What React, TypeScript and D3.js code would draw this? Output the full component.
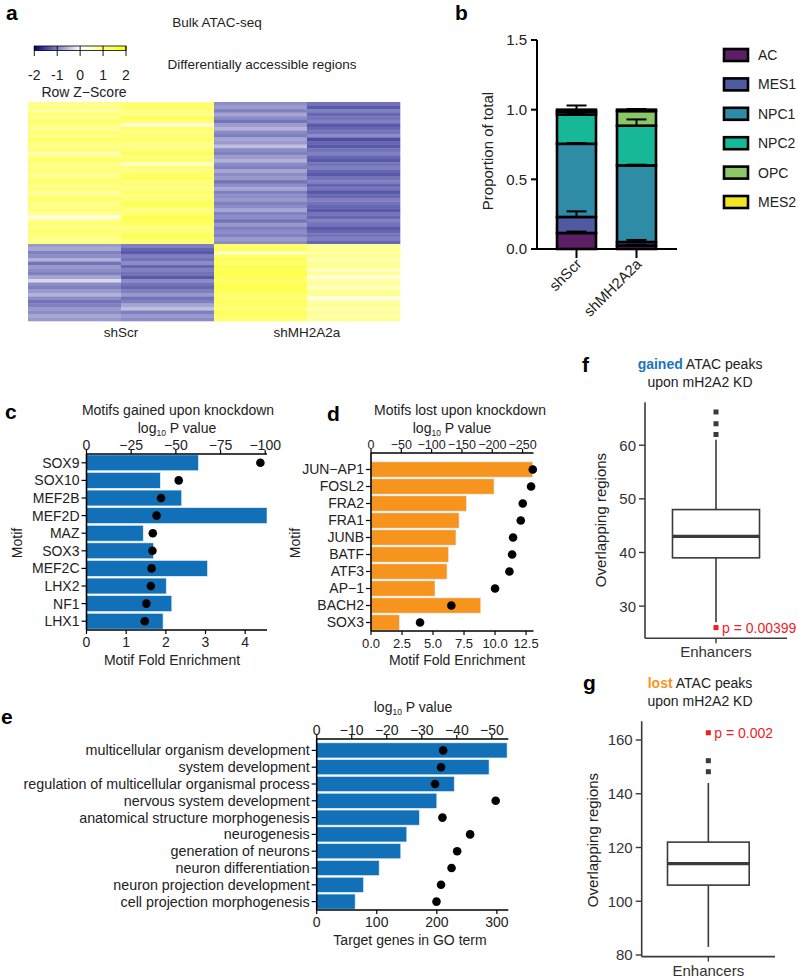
import React from "react";
import * as d3 from "d3";

const FONT = "'Liberation Sans', Arial, Helvetica, sans-serif";

// ---------- Panel a: heatmap (row z-scores) ----------
const hmSamples = ["shScr_1", "shScr_2", "shMH2A2a_1", "shMH2A2a_2"];
const hmGroups = ["shScr", "shMH2A2a"];
const zTicks = [-2, -1, 0, 1, 2];
const topS1 = [0.9,1.0,0.7,1.1,0.9,1.2,1.0,0.8,1.1,0.9,1.2,1.0,0.9,1.1,0.6,1.0,1.2,0.9,1.0,1.1,0.8,1.0,1.2,0.9,1.1,0.7,1.0,1.2,0.9,1.0,1.1,0.8,0.2,1.0,1.1,0.9,1.2,1.0,0.9,1.0];
const topS2 = [1.1,1.2,1.0,0.9,1.3,1.1,0.3,1.2,1.0,1.1,1.2,1.0,0.9,1.1,1.3,1.0,1.2,0.4,1.1,1.0,1.2,1.3,1.0,1.1,0.9,1.2,1.0,1.1,1.3,1.2,1.0,1.1,1.4,1.3,1.2,1.0,1.1,1.3,1.2,1.1];
const topM1 = [-0.9,-0.8,-1.0,-0.7,-0.9,-1.1,-0.8,-0.6,-0.9,-1.0,-0.7,-0.8,-0.5,-0.9,-1.0,-0.8,-0.6,-0.9,-1.0,-0.7,-0.9,-0.8,-1.1,-0.9,-0.7,-1.0,-0.9,-0.8,-1.0,-0.9,-0.7,-1.0,-0.9,-1.1,-0.8,-1.0,-0.9,-1.0,-0.8,-0.9];
const topM2 = [-1.1,-1.3,-1.0,-1.2,-1.1,-1.0,-1.3,-1.2,-1.1,-0.9,-1.4,-1.2,-1.3,-1.1,-1.0,-1.2,-1.3,-1.1,-1.0,-1.2,-1.3,-1.1,-1.0,-1.2,-1.1,-1.3,-1.2,-1.0,-1.1,-1.2,-1.3,-1.1,-1.2,-1.0,-1.1,-1.3,-1.2,-1.1,-1.0,-1.2];
const botS1 = [-0.8,-0.7,-1.0,-0.9,-0.6,-1.1,-0.8,-0.9,-1.0,-0.7,-0.3,-0.9,-1.0,-0.8,-0.6,-0.9,-1.1,-1.0,-0.8,-0.9,-0.7,-0.8];
const botS2 = [-1.0,-1.2,-1.3,-1.0,-1.1,-0.9,-1.2,-1.0,-1.1,-1.3,-0.9,-1.1,-1.2,-1.0,-0.8,-1.1,-1.0,-0.7,-0.5,-1.0,-0.8,-0.9];
const botM1 = [1.2,1.3,0.4,1.2,1.3,1.1,1.4,1.3,1.4,1.3,1.2,1.3,1.4,1.3,1.2,1.1,1.3,1.2,1.0,1.3,1.2,1.1];
const botM2 = [0.8,0.9,0.7,0.9,0.6,0.8,0.9,0.5,0.8,0.3,0.7,0.8,0.4,0.9,0.8,0.2,0.7,0.9,0.6,0.8,0.7,0.8];

// ---------- Panel b: stacked proportions ----------
const groups = ["shScr", "shMH2A2a"];
const states = ["AC", "MES1", "NPC1", "NPC2", "OPC", "MES2"];
const stateColors = ["#5b1f66", "#4f5aa2", "#2e8ca6", "#17b897", "#8cc766", "#f3e620"];
const shScrProp = [0.115, 0.115, 0.525, 0.21, 0.02, 0.015];
const shMHProp = [0.025, 0.025, 0.55, 0.285, 0.105, 0.01];
const shScrErr = [0.01, 0.04, 0.005, 0.005, 0.005, 0.03];
const shMHErr = [0.005, 0.015, 0.005, 0.045, 0.005, 0.005];
const propTicks = [0, 0.5, 1.0, 1.5];

// ---------- Panel c ----------
const gainedMotifs = ["SOX9", "SOX10", "MEF2B", "MEF2D", "MAZ", "SOX3", "MEF2C", "LHX2", "NF1", "LHX1"];
const gainedFold = [2.82, 1.86, 2.4, 4.55, 1.43, 1.69, 3.05, 2.01, 2.15, 1.93];
const gainedLogP = [-97.3, -51.6, -41.7, -39.2, -37.1, -36.9, -36.4, -36.0, -33.5, -32.6];
const gainedFoldTicks = [0, 1, 2, 3, 4];
const gainedPTicks = [0, -25, -50, -75, -100];

// ---------- Panel d ----------
const lostMotifs = ["JUN\u2212AP1", "FOSL2", "FRA2", "FRA1", "JUNB", "BATF", "ATF3", "AP\u22121", "BACH2", "SOX3"];
const lostFold = [13.04, 9.92, 7.7, 7.1, 6.85, 6.26, 6.13, 5.16, 8.85, 2.29];
const lostLogP = [-266.8, -264, -250.3, -247, -234.3, -232.7, -228.3, -204.6, -132.5, -80.9];
const lostFoldTicks = [0, 2.5, 5, 7.5, 10, 12.5];
const lostPTicks = [0, -50, -100, -150, -200, -250];

// ---------- Panel e ----------
const goTerms = [
  "multicellular organism development",
  "system development",
  "regulation of multicellular organismal process",
  "nervous system development",
  "anatomical structure morphogenesis",
  "neurogenesis",
  "generation of neurons",
  "neuron differentiation",
  "neuron projection development",
  "cell projection morphogenesis",
];
const goGenes = [317, 287, 229, 200, 171, 150, 140, 104, 78, 64];
const goLogP = [-36.1, -35.5, -33.8, -51.1, -35.9, -43.8, -40.1, -38.5, -35.5, -34.2];
const goGeneTicks = [0, 100, 200, 300];
const goPTicks = [0, -10, -20, -30, -40, -50];

// ---------- Panels f, g: permutation boxplots ----------
// [lower whisker, Q1, median, Q3, upper whisker]
const gainedBoxStats = [27, 39, 43, 48, 61];
const gainedOutliers = [62, 64, 66.2];
const gainedObserved = 26;
const gainedPText = "p = 0.00399";
const gainedTicks = [30, 40, 50, 60];

const lostBoxStats = [83, 106, 114, 122, 144];
const lostOutliers = [148.2, 152.3];
const lostObserved = 162.7;
const lostPText = "p = 0.002";
const lostTicks = [80, 100, 120, 140, 160];

const fmtInt = d3.format("d");
const fmtOne = d3.format(".1f");

function LogPLabel({ x, y }: { x: number; y: number }) {
  return (
    <text x={x} y={y} textAnchor="middle" fontSize={14} fill="#222">
      log<tspan fontSize={8.5} dy={3}>10</tspan>
      <tspan dy={-3}> P value</tspan>
    </text>
  );
}

type BarDotProps = {
  cats: string[];
  vals: number[];
  pvals: number[];
  xRange: [number, number];
  foldMax: number;
  pMin: number;
  yTop: number;
  bandTop: number;
  yBottom: number;
  color: string;
  foldTicks: number[];
  pTicks: number[];
  foldFmt: (v: number) => string;
  labelSize: number;
  topTickSize: number;
  bottomTickSize: number;
};

function BarDot(p: BarDotProps) {
  const x = d3.scaleLinear([0, p.foldMax], p.xRange);
  const xp = d3.scaleLinear([0, p.pMin], p.xRange);
  const y = d3.scaleBand(p.cats, [p.bandTop, p.yBottom]).paddingInner(0.1).paddingOuter(0.05);
  const x0 = p.xRange[0];
  const sw = 1.6;
  return (
    <g>
      {p.cats.map((c, i) => (
        <rect key={c} x={x0} y={y(c)} width={x(p.vals[i]) - x0} height={y.bandwidth()}
          fill={p.color} stroke="#e9f2f9" strokeWidth={0.6} />
      ))}
      {p.cats.map((c, i) => (
        <circle key={c} cx={xp(p.pvals[i])} cy={(y(c) as number) + y.bandwidth() / 2} r={4.3} fill="#000" />
      ))}
      <line x1={x0} x2={p.xRange[1]} y1={p.yTop} y2={p.yTop} stroke="#000" strokeWidth={sw} />
      <line x1={x0} x2={p.xRange[1]} y1={p.yBottom} y2={p.yBottom} stroke="#000" strokeWidth={sw} />
      <line x1={x0} x2={x0} y1={p.yTop} y2={p.yBottom} stroke="#000" strokeWidth={sw} />
      {p.pTicks.map((t) => (
        <g key={"pt" + t}>
          <line x1={xp(t)} x2={xp(t)} y1={p.yTop} y2={p.yTop - 4} stroke="#000" strokeWidth={1.2} />
          <text x={xp(t)} y={p.yTop - 4} textAnchor="middle" fontSize={p.topTickSize} fill="#222">{fmtInt(t)}</text>
        </g>
      ))}
      {p.foldTicks.map((t) => (
        <g key={"ft" + t}>
          <line x1={x(t)} x2={x(t)} y1={p.yBottom} y2={p.yBottom + 4} stroke="#000" strokeWidth={1.2} />
          <text x={x(t)} y={p.yBottom + 17} textAnchor="middle" fontSize={p.bottomTickSize} fill="#222">{p.foldFmt(t)}</text>
        </g>
      ))}
      {p.cats.map((c) => (
        <g key={"yl" + c}>
          <line x1={x0 - 5} x2={x0} y1={(y(c) as number) + y.bandwidth() / 2} y2={(y(c) as number) + y.bandwidth() / 2} stroke="#000" strokeWidth={1.2} />
          <text x={x0 - 7} y={(y(c) as number) + y.bandwidth() / 2} dy="0.35em" textAnchor="end" fontSize={p.labelSize} fill="#222">{c}</text>
        </g>
      ))}
    </g>
  );
}

type BoxProps = {
  yDomain: [number, number];
  yRange: [number, number];
  xRange: [number, number];
  ticks: number[];
  stats: number[];
  outliers: number[];
  observed: number;
  pText: string;
  pDy: number;
};

function BoxPanel(b: BoxProps) {
  const y = d3.scaleLinear(b.yDomain, b.yRange);
  const x = d3.scaleBand(["Enhancers"], b.xRange).padding(0.24);
  const bx = x("Enhancers") as number;
  const bw = x.bandwidth();
  const cx = bx + bw / 2;
  const [lo, q1, med, q3, hi] = b.stats;
  const ax = b.xRange[0];
  const base = b.yRange[0];
  const col = "#3a3a3a";
  return (
    <g>
      <line x1={cx} x2={cx} y1={y(hi)} y2={y(q3)} stroke={col} strokeWidth={1.6} />
      <line x1={cx} x2={cx} y1={y(q1)} y2={y(lo)} stroke={col} strokeWidth={1.6} />
      <rect x={bx} y={y(q3)} width={bw} height={y(q1) - y(q3)} fill="#fff" stroke={col} strokeWidth={1.6} />
      <line x1={bx} x2={bx + bw} y1={y(med)} y2={y(med)} stroke={col} strokeWidth={3.4} />
      {b.outliers.map((o) => (
        <rect key={o} x={cx - 2.5} y={y(o) - 2.5} width={5} height={5} fill={col} />
      ))}
      <rect x={cx - 2.5} y={y(b.observed) - 2.5} width={5} height={5} fill="#ee1c25" />
      <text x={cx + 6} y={y(b.observed)} dy={b.pDy} fontSize={14} fill="#ee1c25">{b.pText}</text>
      <line x1={ax} x2={ax} y1={b.yRange[1]} y2={base} stroke={col} strokeWidth={1.6} />
      <line x1={ax} x2={b.xRange[1]} y1={base} y2={base} stroke={col} strokeWidth={1.6} />
      {b.ticks.map((t) => (
        <g key={t}>
          <line x1={ax - 6} x2={ax} y1={y(t)} y2={y(t)} stroke={col} strokeWidth={1.4} />
          <text x={ax - 9} y={y(t)} dy="0.36em" textAnchor="end" fontSize={15} fill="#333">{fmtInt(t)}</text>
        </g>
      ))}
      <line x1={cx} x2={cx} y1={base} y2={base + 5} stroke={col} strokeWidth={1.4} />
      <text x={cx} y={base + 19} textAnchor="middle" fontSize={15} fill="#333">Enhancers</text>
    </g>
  );
}

export default function App() {
  const zColor = d3.scaleLinear<string>().domain([-2, 0, 2]).range(["#000080", "#ffffff", "#ffff00"]);
  const hmX = d3.scaleBand(hmSamples, [28, 400]);
  const hmGroupX = d3.scaleBand(hmGroups, [28, 400]);
  const topBlock = [topS1, topS2, topM1, topM2];
  const botBlock = [botS1, botS2, botM1, botM2];
  const topY = d3.scaleBand(d3.range(topS1.length), [102, 244]);
  const botY = d3.scaleBand(d3.range(botS1.length), [244, 321]);
  const zScale = d3.scaleLinear([-2, 2], [34.3, 126]);

  const bY = d3.scaleLinear([0, 1.5], [249, 40]);
  const bX = d3.scalePoint(groups, [576.5, 636.5]);
  const barW = 39;
  const propData = [shScrProp, shMHProp];
  const errData = [shScrErr, shMHErr];
  const stacks = groups.map((g, gi) => {
    let c = 0;
    return states.map((s, si) => {
      const y0 = c;
      c += propData[gi][si];
      return { state: s, y0, y1: c, err: errData[gi][si], color: stateColors[si] };
    });
  });
  const legY = d3.scalePoint(states, [55, 202]);

  return (
    <svg width={798} height={978} fontFamily={FONT}
      style={{ position: "absolute", left: 0, top: 0, background: "#fff" }}>
      <rect width={798} height={978} fill="#fff" />

      {/* ================= a ================= */}
      <text x={6} y={20} fontSize={21} fontWeight="bold">a</text>
      <text x={217} y={27} textAnchor="middle" fontSize={13.5} fill="#222">Bulk ATAC-seq</text>
      <text x={262} y={69} textAnchor="middle" fontSize={13.5} fill="#222">Differentially accessible regions</text>
      <defs>
        <linearGradient id="zgrad" x1="0" x2="1" y1="0" y2="0">
          {d3.range(0, 1.0001, 0.125).map((f) => (
            <stop key={f} offset={f} stopColor={zColor(-2 + 4 * f)} />
          ))}
        </linearGradient>
      </defs>
      <rect x={zScale(-2)} y={46} width={zScale(2) - zScale(-2)} height={4.5} fill="url(#zgrad)" stroke="#000" strokeWidth={0.8} />
      {zTicks.map((t) => (
        <g key={t}>
          <line x1={zScale(t)} x2={zScale(t)} y1={46} y2={56} stroke="#000" strokeWidth={0.9} />
          <text x={zScale(t)} y={80} textAnchor="middle" fontSize={14} fill="#222">{t}</text>
        </g>
      ))}
      <text x={84} y={97} textAnchor="middle" fontSize={14} fill="#222">Row Z{"\u2212"}Score</text>
      {topBlock.map((col, ci) =>
        col.map((v, ri) => (
          <rect key={"t" + ci + "-" + ri} x={hmX(hmSamples[ci])} y={topY(ri)} width={hmX.bandwidth() + 0.3}
            height={topY.bandwidth() + 0.3} fill={zColor(v)} />
        ))
      )}
      {botBlock.map((col, ci) =>
        col.map((v, ri) => (
          <rect key={"b" + ci + "-" + ri} x={hmX(hmSamples[ci])} y={botY(ri)} width={hmX.bandwidth() + 0.3}
            height={botY.bandwidth() + 0.3} fill={zColor(v)} />
        ))
      )}
      {hmGroups.map((g) => (
        <text key={g} x={(hmGroupX(g) as number) + hmGroupX.bandwidth() / 2} y={337} textAnchor="middle" fontSize={13.5} fill="#222">{g}</text>
      ))}

      {/* ================= b ================= */}
      <text x={455} y={20} fontSize={21} fontWeight="bold">b</text>
      {stacks.map((st, gi) => (
        <g key={groups[gi]}>
          {st.map((s) => (
            <rect key={s.state} x={(bX(groups[gi]) as number) - barW / 2} y={bY(s.y1)} width={barW}
              height={bY(s.y0) - bY(s.y1)} fill={s.color} stroke="#000" strokeWidth={2.6} />
          ))}
          {st.map((s) => (
            <g key={"e" + s.state}>
              <line x1={bX(groups[gi])} x2={bX(groups[gi])} y1={bY(s.y1)} y2={bY(s.y1 + s.err)} stroke="#000" strokeWidth={2} />
              <line x1={(bX(groups[gi]) as number) - 10} x2={(bX(groups[gi]) as number) + 10} y1={bY(s.y1 + s.err)} y2={bY(s.y1 + s.err)} stroke="#000" strokeWidth={2} />
            </g>
          ))}
        </g>
      ))}
      <line x1={537} x2={537} y1={bY(1.5)} y2={bY(0)} stroke="#000" strokeWidth={2} />
      <line x1={536} x2={677} y1={bY(0)} y2={bY(0)} stroke="#000" strokeWidth={2} />
      {propTicks.map((t) => (
        <g key={t}>
          <line x1={531} x2={537} y1={bY(t)} y2={bY(t)} stroke="#000" strokeWidth={2} />
          <text x={527} y={bY(t)} dy="0.36em" textAnchor="end" fontSize={15} fill="#222">{fmtOne(t)}</text>
        </g>
      ))}
      {groups.map((g) => (
        <g key={g}>
          <line x1={bX(g)} x2={bX(g)} y1={bY(0)} y2={bY(0) + 9} stroke="#000" strokeWidth={2} />
          <text transform={`translate(${(bX(g) as number) + 6},${bY(0) + 16}) rotate(-45)`} textAnchor="end"
            fontSize={15} fill="#222">{g}</text>
        </g>
      ))}
      <text transform={`translate(493,151) rotate(-90)`} textAnchor="middle" fontSize={15} fill="#222">Proportion of total</text>
      {states.map((s, i) => (
        <g key={s}>
          <rect x={724} y={(legY(s) as number) - 6} width={24} height={12} fill={stateColors[i]} stroke="#000" strokeWidth={2.6} />
          <text x={758} y={legY(s)} dy="0.36em" fontSize={14} fill="#222">{s}</text>
        </g>
      ))}

      {/* ================= c ================= */}
      <text x={5} y={419} fontSize={21} fontWeight="bold">c</text>
      <text x={178} y={415} textAnchor="middle" fontSize={14} fill="#222">Motifs gained upon knockdown</text>
      <LogPLabel x={177} y={433} />
      <BarDot cats={gainedMotifs} vals={gainedFold} pvals={gainedLogP} xRange={[86.5, 267]} foldMax={4.55} pMin={-101}
        yTop={454} bandTop={454} yBottom={630} color="#1170b8" foldTicks={gainedFoldTicks} pTicks={gainedPTicks}
        foldFmt={fmtInt} labelSize={14} topTickSize={14} bottomTickSize={14} />
      <text transform="translate(22,543) rotate(-90)" textAnchor="middle" fontSize={14} fill="#222">Motif</text>
      <text x={172} y={665} textAnchor="middle" fontSize={14} fill="#222">Motif Fold Enrichment</text>

      {/* ================= d ================= */}
      <text x={327} y={421} fontSize={21} fontWeight="bold">d</text>
      <text x={460} y={415} textAnchor="middle" fontSize={14} fill="#222">Motifs lost upon knockdown</text>
      <LogPLabel x={452} y={433} />
      <BarDot cats={lostMotifs} vals={lostFold} pvals={lostLogP} xRange={[371, 533.5]} foldMax={13.1} pMin={-268}
        yTop={453} bandTop={461} yBottom={631} color="#f7941e" foldTicks={lostFoldTicks} pTicks={lostPTicks}
        foldFmt={fmtOne} labelSize={14} topTickSize={12.5} bottomTickSize={13} />
      <text transform="translate(300,543) rotate(-90)" textAnchor="middle" fontSize={14} fill="#222">Motif</text>
      <text x={457} y={665} textAnchor="middle" fontSize={14} fill="#222">Motif Fold Enrichment</text>

      {/* ================= e ================= */}
      <text x={1} y={724} fontSize={21} fontWeight="bold">e</text>
      <LogPLabel x={413} y={712} />
      <BarDot cats={goTerms} vals={goGenes} pvals={goLogP} xRange={[316.7, 508.3]} foldMax={319} pMin={-54.7}
        yTop={739} bandTop={742} yBottom={910} color="#1170b8" foldTicks={goGeneTicks} pTicks={goPTicks}
        foldFmt={fmtInt} labelSize={14.3} topTickSize={14} bottomTickSize={14} />
      <text x={410} y={945} textAnchor="middle" fontSize={14} fill="#222">Target genes in GO term</text>

      {/* ================= f ================= */}
      <text x={582} y={372} fontSize={21} fontWeight="bold">f</text>
      <text x={700} y={369} textAnchor="middle" fontSize={14} fill="#222">
        <tspan fill="#1b75bc" fontWeight="bold">gained</tspan> ATAC peaks
      </text>
      <text x={700} y={387} textAnchor="middle" fontSize={14} fill="#222">upon mH2A2 KD</text>
      <BoxPanel yDomain={[24, 68]} yRange={[638.3, 402.3]} xRange={[645, 787]} ticks={gainedTicks}
        stats={gainedBoxStats} outliers={gainedOutliers} observed={gainedObserved} pText={gainedPText} pDy={5} />
      <text transform="translate(606,520) rotate(-90)" textAnchor="middle" fontSize={15} fill="#222">Overlapping regions</text>

      {/* ================= g ================= */}
      <text x={583} y={690} fontSize={21} fontWeight="bold">g</text>
      <text x={700} y={688} textAnchor="middle" fontSize={14} fill="#222">
        <tspan fill="#f7941e" fontWeight="bold">lost</tspan> ATAC peaks
      </text>
      <text x={700} y={706} textAnchor="middle" fontSize={14} fill="#222">upon mH2A2 KD</text>
      <BoxPanel yDomain={[79.4, 167]} yRange={[956.6, 721.2]} xRange={[641.7, 775]} ticks={lostTicks}
        stats={lostBoxStats} outliers={lostOutliers} observed={lostObserved} pText={lostPText} pDy={5} />
      <text transform="translate(598,840) rotate(-90)" textAnchor="middle" fontSize={15} fill="#222">Overlapping regions</text>
    </svg>
  );
}
